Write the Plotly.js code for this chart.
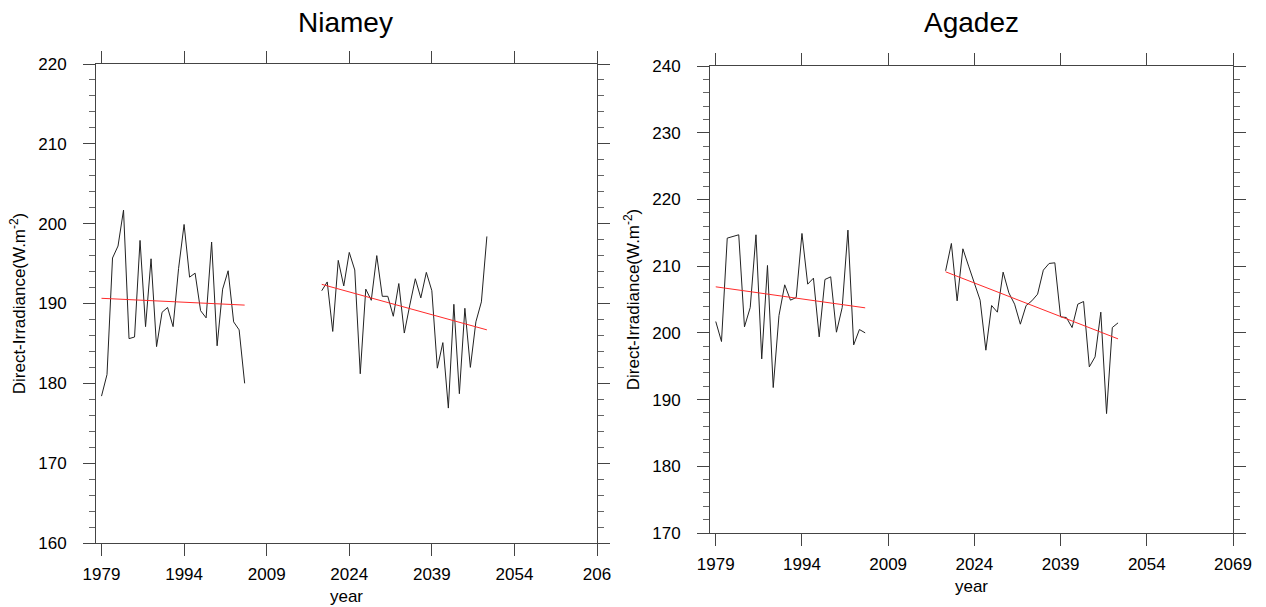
<!DOCTYPE html>
<html>
<head>
<meta charset="utf-8">
<script src="https://cdn.plot.ly/plotly-3.0.1.min.js"></script>
<style>html,body{margin:0;padding:0;background:#fff;}#chart{width:1266px;height:607px;}</style>
</head>
<body>
<div id="chart"></div>
<script>
// ---- data ----
var histYears = [1979,1980,1981,1982,1983,1984,1985,1986,1987,1988,1989,1990,1991,1992,1993,1994,1995,1996,1997,1998,1999,2000,2001,2002,2003,2004,2005];
var futYears  = [2019,2020,2021,2022,2023,2024,2025,2026,2027,2028,2029,2030,2031,2032,2033,2034,2035,2036,2037,2038,2039,2040,2041,2042,2043,2044,2045,2046,2047,2048,2049];

var niameyHist = [178.4,181.1,195.7,197.2,201.7,185.6,185.8,197.9,187.1,195.6,184.6,188.9,189.5,187.1,194.4,199.9,193.3,193.8,189.1,188.2,197.7,184.7,191.8,194.1,187.7,186.7,180.0];
var niameyFut  = [191.6,192.7,186.5,195.4,192.2,196.4,194.2,181.2,191.8,190.4,196.0,190.9,190.9,188.4,192.5,186.3,189.8,193.1,190.7,193.9,191.6,181.9,185.1,176.9,189.9,178.7,189.4,182.0,187.7,190.2,198.4];
var niameyTrendHist = [190.65, 189.8];
var niameyTrendFut  = [192.4, 186.7];

var agadezHist = [201.7,198.7,214.2,214.5,214.7,200.9,203.8,214.7,196.1,210.1,191.8,202.6,207.2,204.9,205.3,214.9,207.3,208.2,199.4,208.0,208.4,200.1,203.8,215.4,198.2,200.5,200.0];
var agadezFut  = [209.3,213.4,204.8,212.6,210.0,207.3,204.9,197.4,204.1,203.1,209.1,206.0,204.3,201.3,204.1,204.8,205.8,209.4,210.4,210.5,202.4,202.3,200.8,204.3,204.7,194.9,196.4,203.1,187.9,200.8,201.5];
var agadezTrendHist = [206.9, 203.75];
var agadezTrendFut  = [209.15, 199.1];

var xTickVals = [1979,1994,2009,2024,2039,2054,2069];
var xTickTextNiamey = ['1979','1994','2009','2024','2039','2054','206'];
var xTickTextAgadez = ['1979','1994','2009','2024','2039','2054','2069'];
var titles = ['Niamey','Agadez'];
var yTitle = 'Direct-Irradiance(W.m<sup>-2</sup>)';
var xTitle = 'year';

// ---- traces ----
function line(x, y, xa, ya, color) {
  return {x: x, y: y, xaxis: xa, yaxis: ya, type: 'scatter', mode: 'lines',
          line: {color: color, width: 1}, hoverinfo: 'x+y', showlegend: false};
}
function ends(arr) { return [arr[0], arr[arr.length - 1]]; }

var data = [
  line(histYears, niameyHist, 'x', 'y', '#222'),
  line(futYears, niameyFut, 'x', 'y', '#222'),
  line(ends(histYears), niameyTrendHist, 'x', 'y', '#ff2a2a'),
  line(ends(futYears), niameyTrendFut, 'x', 'y', '#ff2a2a'),
  line(histYears, agadezHist, 'x2', 'y2', '#222'),
  line(futYears, agadezFut, 'x2', 'y2', '#222'),
  line(ends(histYears), agadezTrendHist, 'x2', 'y2', '#ff2a2a'),
  line(ends(futYears), agadezTrendFut, 'x2', 'y2', '#ff2a2a')
];

var FONT = 'Liberation Sans, Arial, Helvetica, sans-serif';
var W = 1266, H = 607;

function xAxis(domain, ticktext, anchor) {
  return {
    domain: domain, anchor: anchor, range: [1978, 2069],
    tickmode: 'array', tickvals: xTickVals, ticktext: ticktext,
    ticks: 'outside', ticklen: 12, tickwidth: 1, tickcolor: '#444',
    showline: true, linecolor: '#444', linewidth: 1, mirror: 'ticks',
    showgrid: false, zeroline: false,
    tickfont: {family: FONT, size: 17, color: '#000'},
    ticklabelstandoff: 4,
    title: {text: xTitle, font: {family: FONT, size: 17, color: '#000'}, standoff: 6}
  };
}
function yAxis(domain, range, anchor) {
  return {
    domain: domain, anchor: anchor, range: range,
    tickmode: 'linear', tick0: 0, dtick: 10,
    ticks: 'outside', ticklen: 12, tickwidth: 1, tickcolor: '#444',
    minor: {dtick: 2, ticks: 'outside', ticklen: 6, tickwidth: 1, tickcolor: '#666', showgrid: false},
    showline: true, linecolor: '#444', linewidth: 1, mirror: 'ticks',
    showgrid: false, zeroline: false,
    tickfont: {family: FONT, size: 17, color: '#000'},
    ticklabelstandoff: 13,
    title: {text: yTitle, font: {family: FONT, size: 17, color: '#000'}, standoff: 8}
  };
}

var layout = {
  width: W, height: H,
  margin: {l: 0, r: 0, t: 0, b: 0},
  paper_bgcolor: '#fff', plot_bgcolor: '#fff',
  showlegend: false,
  font: {family: FONT, color: '#000'},
  xaxis:  xAxis([96 / W, 597 / W], xTickTextNiamey, 'y'),
  yaxis:  yAxis([1 - 543 / H, 1 - 64 / H], [160, 220], 'x'),
  xaxis2: xAxis([710 / W, 1233 / W], xTickTextAgadez, 'y2'),
  yaxis2: yAxis([1 - 533 / H, 1 - 66 / H], [170, 240], 'x2'),
  annotations: [
    {text: titles[0], xref: 'paper', yref: 'paper', x: 345 / W, y: 1 - 22 / H,
     xanchor: 'center', yanchor: 'middle', showarrow: false,
     font: {family: FONT, size: 28, color: '#000'}},
    {text: titles[1], xref: 'paper', yref: 'paper', x: 971 / W, y: 1 - 22 / H,
     xanchor: 'center', yanchor: 'middle', showarrow: false,
     font: {family: FONT, size: 28, color: '#000'}}
  ]
};

Plotly.newPlot('chart', data, layout, {displayModeBar: false, staticPlot: true});
</script>
</body>
</html>
